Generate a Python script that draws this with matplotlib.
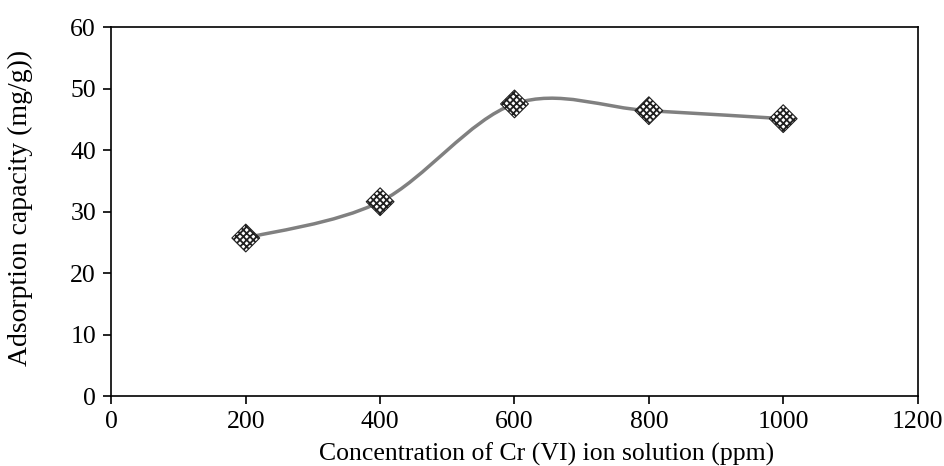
import numpy as np
import matplotlib.pyplot as plt
from matplotlib.path import Path
from matplotlib.patches import PathPatch

plt.rcParams['font.family'] = ['Liberation Serif', 'DejaVu Serif']
plt.rcParams['hatch.linewidth'] = 1.3

concentration = [200, 400, 600, 800, 1000]
capacity = [25.7, 31.6, 47.5, 46.4, 45.1]


def smooth_path(x, y):
    # Excel-style smoothed line: cubic Bezier with Catmull-Rom control points
    pts = np.column_stack([x, y]).astype(float)
    verts = [pts[0]]
    codes = [Path.MOVETO]
    n = len(pts)
    for i in range(n - 1):
        p0 = pts[i - 1] if i > 0 else pts[i]
        p1 = pts[i]
        p2 = pts[i + 1]
        p3 = pts[i + 2] if i + 2 < n else pts[i + 1]
        c1 = p1 + (p2 - p0) / 6.0
        c2 = p2 - (p3 - p1) / 6.0
        verts += [c1, c2, p2]
        codes += [Path.CURVE4] * 3
    return Path(verts, codes)


fig, ax = plt.subplots(figsize=(9.44, 4.66), dpi=100)
fig.subplots_adjust(left=0.118, right=0.972, top=0.942, bottom=0.15)

ax.add_patch(PathPatch(smooth_path(concentration, capacity), facecolor='none',
                       edgecolor='#808080', lw=2.5, zorder=2))
ax.scatter(concentration, capacity, marker='D', s=200, facecolor='white',
           edgecolor='#202020', hatch='xxxxx', linewidths=0.8, zorder=3)

ax.set_xlim(0, 1200)
ax.set_ylim(0, 60)
ax.set_xticks(range(0, 1201, 200))
ax.set_yticks(range(0, 61, 10))
ax.tick_params(labelsize=18.5, length=6, width=1.2, direction='out', pad=5)
for s in ax.spines.values():
    s.set_linewidth(1.2)

ax.set_xlabel('Concentration of Cr (VI) ion solution (ppm)', fontsize=18.5, va='top')
ax.xaxis.set_label_coords(0.54, -0.125)
ax.set_ylabel('Adsorption capacity (mg/g))', fontsize=20, va='center')
ax.yaxis.set_label_coords(-0.113, 0.51)

fig.savefig('out.png')
